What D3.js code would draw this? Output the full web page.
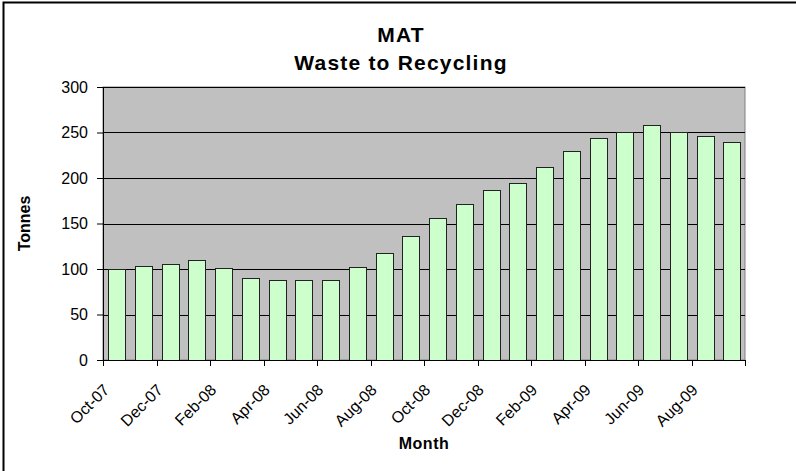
<!DOCTYPE html>
<html>
<head>
<meta charset="utf-8">
<script src="https://cdn.jsdelivr.net/npm/d3@7"></script>
<style>
  body { margin: 0; background: #fff; }
  svg { display: block; font-family: "Liberation Sans", Arial, sans-serif; }
</style>
</head>
<body>
<div id="chart"></div>
<script>
// MAT waste to recycling, monthly bars

const months = ['Oct-07','Nov-07','Dec-07','Jan-08','Feb-08','Mar-08','Apr-08','May-08',
                'Jun-08','Jul-08','Aug-08','Sep-08','Oct-08','Nov-08','Dec-08','Jan-09',
                'Feb-09','Mar-09','Apr-09','May-09','Jun-09','Jul-09','Aug-09','Sep-09']
const tonnes = [100,103,106,110,101,90,88,88,88,102,118,136,156,171,187,195,
                212,230,244,251,258,250,246,240]
const yTicks = [0,50,100,150,200,250,300]

const W = 796, H = 471
const ML = 103, MR = 51, MT = 87, MB = 111 // plot area inside the svg
const PW = W - ML - MR, PH = H - MT - MB

const svg = d3.select('#chart').append('svg').attr('width', W).attr('height', H)

// outer chart border (only top and left show in the frame)
svg.append('rect').attr('x', 3.5).attr('y', 2.5).attr('width', W + 10).attr('height', H + 10)
  .attr('fill', '#fff').attr('stroke', '#000').attr('stroke-width', 2)

const x = d3.scaleBand(months, [0, PW]).paddingInner(0.375).paddingOuter(0.1875)
const xs = d3.scaleBand(months, [0, PW]) // full category slots
const y = d3.scaleLinear([0, 300], [PH, 0])

const g = svg.append('g').attr('transform', `translate(${ML},${MT})`)

g.append('rect').attr('width', PW).attr('height', PH).attr('fill', '#c0c0c0')
  .attr('stroke', '#808080').attr('stroke-width', 1)

g.selectAll('line.grid').data(yTicks.slice(1)).join('line').attr('class', 'grid')
  .attr('x1', 0).attr('x2', PW)
  .attr('y1', d => Math.round(y(d)) + 0.5).attr('y2', d => Math.round(y(d)) + 0.5)
  .attr('stroke', '#000').attr('stroke-width', 1)

g.selectAll('rect.bar').data(months).join('rect').attr('class', 'bar')
  .attr('x', (d, i) => Math.round(x(d)) + 0.5)
  .attr('y', (d, i) => Math.round(y(tonnes[i])) + 0.5)
  .attr('width', Math.round(x.bandwidth()))
  .attr('height', (d, i) => Math.round(PH - y(tonnes[i])))
  .attr('fill', '#ccffcc').attr('stroke', '#222').attr('stroke-width', 1)

// y axis
const ya = g.append('g').call(d3.axisLeft(y).tickValues(yTicks).tickSize(6).tickPadding(9))
ya.select('.domain').attr('stroke', '#000')
ya.selectAll('text').attr('font-size', 16).attr('fill', '#000')
  .attr('font-family', '"Liberation Sans", Arial, sans-serif')

// x axis: line with ticks every two months, labels rotated
const xa = g.append('g').attr('transform', `translate(0,${PH})`)
xa.append('line').attr('x1', 0).attr('x2', PW).attr('y1', 0.5).attr('y2', 0.5).attr('stroke', '#000')
const tickPos = months.filter((d, i) => i % 2 === 0).map(d => xs(d)).concat([PW])
xa.selectAll('line.tk').data(tickPos).join('line').attr('class', 'tk')
  .attr('x1', d => Math.round(d) + 0.5).attr('x2', d => Math.round(d) + 0.5)
  .attr('y1', 0).attr('y2', 6).attr('stroke', '#000')
xa.selectAll('text').data(months.filter((d, i) => i % 2 === 0)).join('text')
  .attr('transform', d => `translate(${xs(d) + xs.bandwidth() / 2 - 10},${27}) rotate(-45)`)
  .attr('text-anchor', 'end').attr('font-size', 16).attr('dy', '0.35em')
  .text(d => d)

// titles
svg.append('text').attr('x', 401).attr('y', 42).attr('text-anchor', 'middle')
  .attr('font-size', 21).attr('font-weight', 'bold').attr('letter-spacing', 1.2).text('MAT')
svg.append('text').attr('x', 401).attr('y', 70).attr('text-anchor', 'middle')
  .attr('font-size', 21).attr('font-weight', 'bold').attr('letter-spacing', 1.2).text('Waste to Recycling')
svg.append('text').attr('x', ML + PW / 2).attr('y', 449).attr('text-anchor', 'middle')
  .attr('font-size', 16).attr('font-weight', 'bold').attr('letter-spacing', 0.5).text('Month')
svg.append('text').attr('transform', `translate(30,${MT + PH / 2}) rotate(-90)`)
  .attr('text-anchor', 'middle').attr('font-size', 16).attr('font-weight', 'bold').text('Tonnes')
</script>
</body>
</html>
